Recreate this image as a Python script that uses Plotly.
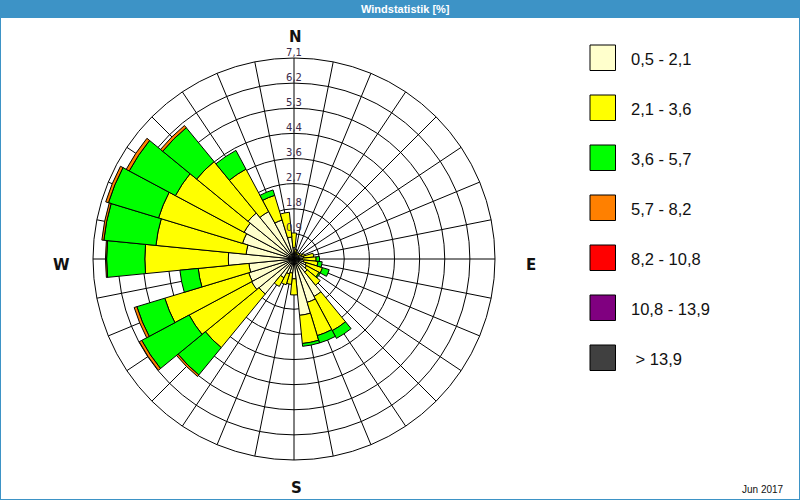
import plotly.graph_objects as go

# ---------------- data ----------------
title_text = "Windstatistik [%]"
date_text = "Jun 2017"

directions = [0, 11.25, 22.5, 33.75, 45, 56.25, 67.5, 78.75,
              90, 101.25, 112.5, 123.75, 135, 146.25, 157.5, 168.75,
              180, 191.25, 202.5, 213.75, 225, 236.25, 247.5, 258.75,
              270, 281.25, 292.5, 303.75, 315, 326.25, 337.5, 348.75]
sector_width = 11.25

classes = ["0,5 - 2,1", "2,1 - 3,6", "3,6 - 5,7", "5,7 - 8,2",
           "8,2 - 10,8", "10,8 - 13,9", " > 13,9"]
colors = ["#FFFFCC", "#FFFF00", "#00FF00", "#FF8000",
          "#FF0000", "#800080", "#404040"]

# frequency [%] per direction and speed class
s_05_21 = [0.40, 0.25, 0.20, 0.20, 0.20, 0.25, 0.30, 0.35,
           0.30, 0.35, 0.45, 0.50, 0.60, 1.50, 1.60, 2.00,
           0.70, 0.50, 0.55, 0.75, 1.60, 1.70, 1.67, 1.60,
           2.32, 1.70, 1.90, 2.00, 2.10, 1.90, 1.44, 0.78]
s_21_36 = [0.52, 0.10, 0.05, 0.05, 0.05, 0.05, 0.10, 0.35,
           0.48, 0.50, 0.60, 0.50, 0.60, 1.37, 1.23, 1.00,
           0.57, 0.40, 0.40, 0.35, 2.45, 2.50, 3.10, 1.80,
           2.95, 3.20, 3.10, 2.75, 2.35, 1.70, 0.91, 0.88]
s_36_57 = [0.00, 0.00, 0.00, 0.00, 0.00, 0.00, 0.00, 0.00,
           0.12, 0.15, 0.25, 0.05, 0.00, 0.31, 0.27, 0.10,
           0.00, 0.00, 0.00, 0.00, 1.25, 1.90, 1.03, 0.65,
           1.35, 1.85, 1.85, 1.85, 1.55, 0.75, 0.20, 0.00]
s_57_82 = [0.00, 0.00, 0.00, 0.00, 0.00, 0.00, 0.00, 0.00,
           0.00, 0.00, 0.00, 0.00, 0.00, 0.00, 0.00, 0.00,
           0.00, 0.00, 0.00, 0.00, 0.07, 0.10, 0.10, 0.00,
           0.04, 0.07, 0.10, 0.12, 0.10, 0.00, 0.00, 0.00]
s_82_108 = [0.0] * 32
s_108_139 = [0.0] * 32
s_139 = [0.0] * 32
series = [s_05_21, s_21_36, s_36_57, s_57_82, s_82_108, s_108_139, s_139]

radial_max = 7.1
radial_ticks = [0.8875, 1.775, 2.6625, 3.55, 4.4375, 5.325, 6.2125, 7.1]
radial_labels = ["0,9", "1,8", "2,7", "3,6", "4,4", "5,3", "6,2", "7,1"]

# ---------------- figure ----------------
W, H = 800, 500
fig = go.Figure()

for name, vals, col in zip(classes, series, colors):
    fig.add_trace(go.Barpolar(
        r=vals, theta=directions, width=[sector_width] * len(directions),
        name=name, showlegend=False,
        marker=dict(color=col, line=dict(color="black", width=1)),
        hoverinfo="skip"))

fig.add_trace(go.Scatterpolar(
    r=radial_ticks, theta=[0] * len(radial_ticks), mode="text",
    text=radial_labels, textposition="top center",
    textfont=dict(family="DejaVu Sans", size=10, color="#3b2a4a"),
    showlegend=False, hoverinfo="skip"))

def px(x, y):
    return x / W, 1 - y / H

shapes = []
annotations = []

# title bar
shapes.append(dict(type="rect", xref="paper", yref="paper", x0=0, x1=1,
                   y0=1 - 18 / H, y1=1, fillcolor="#3D93C6", line=dict(width=0),
                   layer="above"))
annotations.append(dict(text="<b>" + title_text + "</b>", xref="paper", yref="paper",
                        x=405 / W, y=1 - 9 / H, showarrow=False,
                        font=dict(family="Liberation Sans", size=11, color="white"),
                        xanchor="center", yanchor="middle"))
# outer border
shapes.append(dict(type="rect", xref="paper", yref="paper", x0=0, x1=1, y0=0, y1=1,
                   line=dict(color="#3D93C6", width=2), fillcolor="rgba(0,0,0,0)",
                   layer="above"))

# compass letters
for lab, (x, y) in zip(["N", "E", "S", "W"], [(295, 37), (531, 265), (296, 488), (61, 265)]):
    xx, yy = px(x, y)
    annotations.append(dict(text="<b>" + lab + "</b>", xref="paper", yref="paper",
                            x=xx, y=yy, showarrow=False, xanchor="center", yanchor="middle",
                            font=dict(family="DejaVu Sans", size=15, color="#111111")))

# legend
for k, (name, col) in enumerate(zip(classes, colors)):
    top = 45 + 50 * k
    x0, y0 = px(590, top)
    x1, y1 = px(615.5, top + 25.5)
    shapes.append(dict(type="rect", xref="paper", yref="paper", x0=x0, x1=x1,
                       y0=y1, y1=y0, fillcolor=col, line=dict(color="black", width=1)))
    tx, ty = px(629, top + 14)
    label = ("\u00a0" + name[1:]) if name.startswith(" ") else name
    annotations.append(dict(text=label, xref="paper", yref="paper", x=tx, y=ty,
                            showarrow=False, xanchor="left", yanchor="middle",
                            font=dict(family="Liberation Sans", size=16.5, color="#111111")))

# date
dx, dy = px(786, 489)
annotations.append(dict(text=date_text, xref="paper", yref="paper", x=dx, y=dy,
                        showarrow=False, xanchor="right", yanchor="middle",
                        font=dict(family="Liberation Sans", size=10, color="#111111")))

fig.update_layout(
    width=W, height=H,
    margin=dict(l=0, r=0, t=0, b=0),
    paper_bgcolor="white", plot_bgcolor="white",
    shapes=shapes, annotations=annotations,
    polar=dict(
        domain=dict(x=[93 / W, 495 / W], y=[1 - 460 / H, 1 - 58 / H]),
        bgcolor="white",
        barmode="stack", bargap=0,
        radialaxis=dict(range=[0, radial_max], tickmode="array", tickvals=radial_ticks,
                        showticklabels=False, ticks="", showline=False,
                        gridcolor="black", gridwidth=1, angle=90, layer="below traces"),
        angularaxis=dict(rotation=90, direction="clockwise", tickmode="array",
                         tickvals=directions, showticklabels=False, ticks="",
                         gridcolor="black", gridwidth=1, showline=True,
                         linecolor="black", linewidth=1, layer="below traces"),
    ),
)

fig.write_html("out.html")
